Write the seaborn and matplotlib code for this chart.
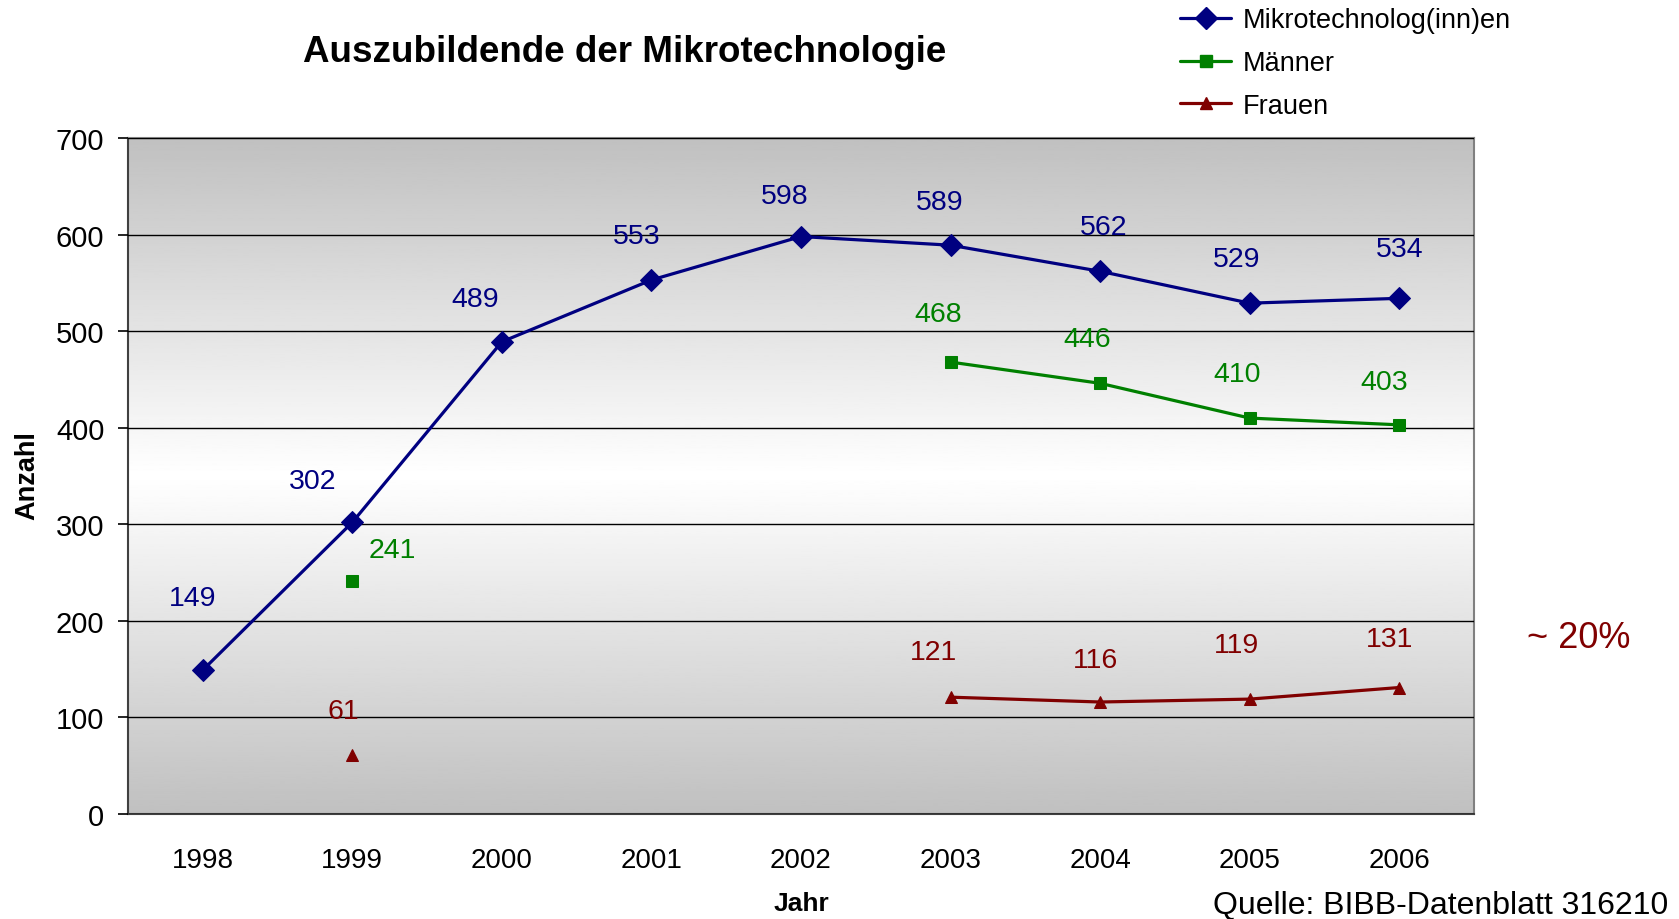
import numpy as np
import pandas as pd
import matplotlib
matplotlib.use('Agg')
import matplotlib.pyplot as plt
import seaborn as sns

# Daten (BIBB-Datenblatt 316210)
jahre = [1998, 1999, 2000, 2001, 2002, 2003, 2004, 2005, 2006]
gesamt = [149, 302, 489, 553, 598, 589, 562, 529, 534]
maenner = [np.nan, 241, np.nan, np.nan, np.nan, 468, 446, 410, 403]
frauen = [np.nan, 61, np.nan, np.nan, np.nan, 121, 116, 119, 131]
serien = ['Mikrotechnolog(inn)en', 'Männer', 'Frauen']

farben = {'Mikrotechnolog(inn)en': '#000080', 'Männer': '#008000', 'Frauen': '#800000'}
marker = {'Mikrotechnolog(inn)en': 'D', 'Männer': 's', 'Frauen': '^'}
msize = {'Mikrotechnolog(inn)en': 11, 'Männer': 8, 'Frauen': 9}

# Label-Versatz in Pixel (dx, dy) je Punkt
versatz = {
    'Mikrotechnolog(inn)en': [(-10, 72), (-40, 41), (-27, 43), (-15, 44), (-16, 41),
                              (-11, 43), (4, 44), (-13, 44), (0, 49)],
    'Männer': [None, (40, 31), None, None, None, (-12, 48), (-13, 44), (-13, 44), (-15, 43)],
    'Frauen': [None, (-9, 44), None, None, None, (-17, 45), (-5, 42), (-13, 54), (-10, 49)],
}

# long-form Tabelle, Segmente getrennt damit Lücken nicht verbunden werden
zeilen = []
for name, werte in zip(serien, [gesamt, maenner, frauen]):
    seg = 0
    for j, w in zip(jahre, werte):
        if np.isnan(w):
            seg += 1
            continue
        zeilen.append({'Jahr': j, 'Anzahl': w, 'Serie': name, 'Segment': f'{name}-{seg}'})
df = pd.DataFrame(zeilen)

sns.set_theme(style='white')
plt.rcParams['font.family'] = ['Liberation Sans', 'DejaVu Sans']
plt.rcParams['text.color'] = 'black'
plt.rcParams['xtick.color'] = 'black'
plt.rcParams['ytick.color'] = 'black'

fig = plt.figure(figsize=(16.79, 9.2), dpi=100)
ax = fig.add_axes([0.0762, 0.1141, 0.8017, 0.7348])

# Hintergrund-Verlauf grau -> weiß -> grau
y = np.linspace(0, 700, 400)
grau = np.where(y > 350, 192 + 63 * (700 - y) / 350, 192 + 63 * y / 350) / 255
ax.imshow(grau[:, None], extent=[1997.5, 2006.5, 0, 700], origin='lower', cmap='gray',
          vmin=0, vmax=1, aspect='auto', zorder=0)

sns.lineplot(data=df, x='Jahr', y='Anzahl', hue='Serie', style='Serie', units='Segment',
             estimator=None, palette=farben, markers=marker, dashes=False,
             hue_order=serien, style_order=serien, linewidth=2.3, legend=False,
             ax=ax, zorder=3)
for line in ax.get_lines():
    c = line.get_color()
    for name in serien:
        if matplotlib.colors.to_hex(c) == farben[name]:
            line.set_markersize(msize[name])
            line.set_markeredgecolor(c)

for name, werte in zip(serien, [gesamt, maenner, frauen]):
    for j, w, off in zip(jahre, werte, versatz[name]):
        if np.isnan(w):
            continue
        ax.annotate(f'{int(w)}', (j, w), xytext=off, textcoords='offset pixels',
                    ha='center', va='center', fontsize=20.5, color=farben[name])

ax.set_xlim(1997.5, 2006.5)
ax.set_ylim(0, 700)
ax.set_yticks(range(0, 701, 100))
ax.set_xticks(jahre)
ax.set_xticks(np.arange(1997.5, 2006.6, 1), minor=True)
ax.tick_params(axis='x', which='major', length=0, pad=24, labelsize=20)
ax.tick_params(axis='x', which='minor', length=8, width=1.2, color='black', direction='out')
ax.tick_params(axis='y', length=7, width=1.2, pad=10, labelsize=21, direction='out',
               color='black', left=True)
ax.yaxis.grid(True, color='black', linewidth=1)
ax.set_axisbelow(False)
for gl in ax.get_ygridlines():
    gl.set_zorder(1)

for s in ['top', 'right']:
    ax.spines[s].set_color('#808080')
    ax.spines[s].set_linewidth(1.5)
for s in ['left', 'bottom']:
    ax.spines[s].set_color('#404040')
    ax.spines[s].set_linewidth(1.5)

ax.set_xlabel('')
ax.set_ylabel('')
fig.text(801 / 1679, 1 - 904 / 920, 'Jahr', ha='center', va='center', fontsize=19,
         fontweight='bold')
fig.text(27 / 1679, 1 - 476 / 920, 'Anzahl', ha='center', va='center', fontsize=19.5,
         fontweight='bold', rotation=90)
fig.text(625 / 1679, 1 - 52 / 920, 'Auszubildende der Mikrotechnologie', ha='center',
         va='center', fontsize=26.5, fontweight='bold')
fig.text(1579 / 1679, 1 - 639 / 920, '~ 20%', ha='center', va='center', fontsize=26,
         color='#800000')
fig.text(1668 / 1679, 1 - 906 / 920, 'Quelle: BIBB-Datenblatt 316210', ha='right',
         va='center', fontsize=23)

# Legende
griffe = [plt.Line2D([], [], color=farben[n], marker=marker[n], markersize=msize[n],
                     linewidth=2.3) for n in serien]
fig.legend(griffe, serien, loc='upper left', bbox_to_anchor=(1180 / 1679, 0.991),
           frameon=False, fontsize=19.5, handlelength=1.9, handletextpad=0.4,
           labelspacing=0.62, borderpad=0, borderaxespad=0)

fig.savefig('out.png', dpi=100)
